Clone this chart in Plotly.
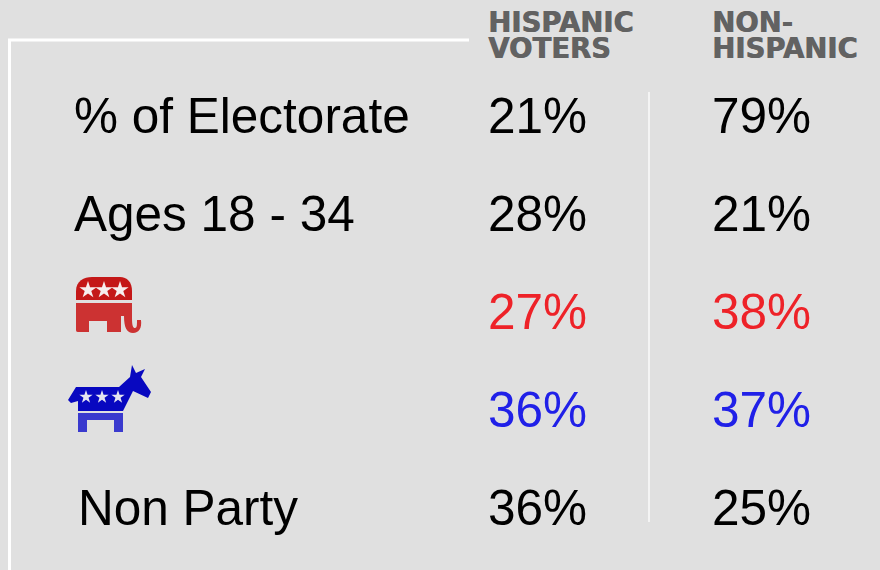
import plotly.graph_objects as go

row_labels = ["% of Electorate", "Ages 18 - 34", "", "", "Non Party"]
hispanic = ["21%", "28%", "27%", "36%", "36%"]
non_hispanic = ["79%", "21%", "38%", "37%", "25%"]
header_hispanic = ["HISPANIC", "VOTERS"]
header_non = ["NON-", "HISPANIC"]
row_colors = ["#000000", "#000000", "#ee2228", "#2020e8", "#000000"]

row_y = [120.5, 218.5, 316.5, 414.5, 512.5]
label_x = [74, 74, 74, 74, 78]
col_x = [488, 712]
head_y = [25, 51]
BODY = "Liberation Sans"
fig = go.Figure()
fig.add_trace(go.Scatter(x=label_x, y=row_y, mode="text", text=row_labels, textposition="middle right",
                         textfont=dict(family=BODY, size=49.5, color="#000000")))
for cx, vals in zip(col_x, [hispanic, non_hispanic]):
    fig.add_trace(go.Scatter(x=[cx] * 5, y=row_y, mode="text", text=vals, textposition="middle right",
                             textfont=dict(family=BODY, size=49.5, color=row_colors)))
for cx, lines in zip(col_x, [header_hispanic, header_non]):
    fig.add_trace(go.Scatter(x=[cx, cx], y=head_y, mode="text", text=lines, textposition="middle right",
                             textfont=dict(family="DejaVu Sans", size=27.5, color="#626262", weight=700,
                                           shadow="0.7px 0 0 #626262")))
# stars on the party icons
fig.add_trace(go.Scatter(x=[88, 104, 120], y=[290, 290, 290], mode="markers",
                         marker=dict(symbol="star", size=13, color="#f6eeee")))
fig.add_trace(go.Scatter(x=[86, 102, 118], y=[397, 397, 397], mode="markers",
                         marker=dict(symbol="star", size=10, color="#e4e4f0")))

shapes = [
    dict(type="line", x0=8, x1=469, y0=40, y1=40, line=dict(color="white", width=3), layer="below"),
    dict(type="line", x0=9.5, x1=9.5, y0=39, y1=570, line=dict(color="white", width=3), layer="below"),
    dict(type="line", x0=649, x1=649, y0=92, y1=522, line=dict(color="#f4f4f4", width=2), layer="below"),
    # elephant
    dict(type="path", path="M76,300 L76,291 C76,281 84,277 92,277 L120,277 C127,277 132,282 132,291 L132,300 Z",
         fillcolor="#c41818", line_width=0, layer="below"),
    dict(type="path", path="M76,303 L132,303 L132,318 C132,326 133,328 135,328 C137,328 137,325 137,320 L141,320 "
                           "C142,328 139,333 133,333 C127,333 124,328 124,316 L121,316 L121,332 L107,332 L107,321 "
                           "L89,321 L89,332 L78,332 C76,332 76,331 76,329 Z",
         fillcolor="#cc3232", line_width=0, layer="below"),
    # donkey
    dict(type="path", path="M76,387 L119,387 L130,377 L132,365 L136,373 L145,369 L141,377 L151,392 L148,398 "
                           "L133,391 L123,411 L78,411 L78,401 L71,403 L68,400 Z",
         fillcolor="#0808c0", line_width=0, layer="below"),
    dict(type="path", path="M78,413 L123,413 L123,432 L114,432 L114,420 L87,420 L87,432 L78,432 Z",
         fillcolor="#3a3ace", line_width=0, layer="below"),
]
fig.update_layout(
    width=880, height=570, margin=dict(l=0, r=0, t=0, b=0),
    paper_bgcolor="#e0e0e0", plot_bgcolor="#e0e0e0", showlegend=False, shapes=shapes,
    xaxis=dict(range=[0, 880], visible=False, fixedrange=True),
    yaxis=dict(range=[570, 0], visible=False, fixedrange=True),
)
fig.write_html("out.html", config={"displayModeBar": False},
               post_script="document.body.style.margin='0';document.body.style.background='#e0e0e0';")
